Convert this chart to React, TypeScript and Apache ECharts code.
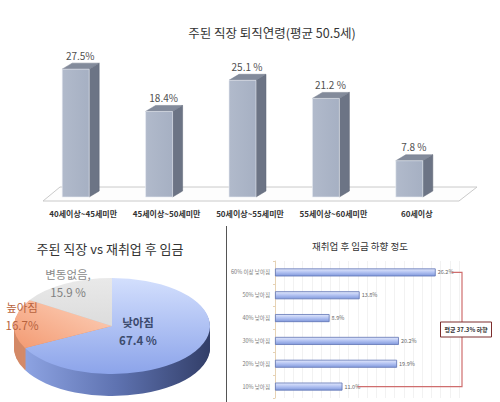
import React, { useEffect, useRef } from 'react';
import * as echarts from 'echarts';

// ---- data ----
const ageCategories = ['40세이상~45세미만', '45세이상~50세미만', '50세이상~55세미만', '55세이상~60세미만', '60세이상'];
const ageValues = [27.5, 18.4, 25.1, 21.2, 7.8];
const ageValueLabels = ['27.5%', '18.4%', '25.1 %', '21.2 %', '7.8 %'];

const wageNames = ['낮아짐', '높아짐', '변동없음,'];
const wageValues = [67.4, 16.7, 15.9];
const wageValueLabels = ['67.4 %', '16.7%', '15.9 %'];

const dropCategories = ['60% 이상 낮아짐', '50% 낮아짐', '40% 낮아짐', '30% 낮아짐', '20% 낮아짐', '10% 낮아짐'];
const dropValues = [26.2, 13.8, 8.9, 20.2, 19.9, 11.0];
const dropAverageLabel = '평균 37.3% 하향';

const titles = ['주된 직장 퇴직연령(평균 50.5세)', '주된 직장 vs 재취업 후 임금', '재취업 후 임금 하향 정도'];

// ---- layout ----
const FONT = '"Noto Sans CJK KR", "Noto Sans", sans-serif';
const PIE = { cx: 112, cy: 326, rx: 98, ry: 48, depth: 22 };
const pieLabelPos = [[138, 331], [22, 316], [68, 283]];
const pieLabelColors = [['#3c4b6e', '#3c4b6e'], ['#b8633e', '#b8633e'], ['#8a8a8a', '#808080']];
const pieLabelWeights = ['bold', 'normal', 'normal'];
const pieTopFills = [
  { type: 'linear', x: 0, y: 0, x2: 0, y2: 1, colorStops: [{ offset: 0, color: '#d3dffd' }, { offset: 1, color: '#8ca4ea' }] },
  { type: 'linear', x: 1, y: 0, x2: 0, y2: 1, colorStops: [{ offset: 0, color: '#fdd3bd' }, { offset: 1, color: '#f39a72' }] },
  { type: 'linear', x: 0, y: 0, x2: 0, y2: 1, colorStops: [{ offset: 0, color: '#e9e9e9' }, { offset: 1, color: '#dcdcdc' }] },
];
const pieSideFills = [
  { type: 'linear', x: 0, y: 0, x2: 1, y2: 0, colorStops: [{ offset: 0, color: '#8da3e2' }, { offset: 0.5, color: '#5e72b0' }, { offset: 1, color: '#323e68' }] },
  '#d48a68',
  '#c4c4c4',
];

function sliceAngles(i: number) {
  const total = wageValues.reduce((a, b) => a + b, 0);
  let cum = 0;
  for (let k = 0; k < i; k++) cum += wageValues[k];
  const a0 = -Math.PI / 2 + (cum / total) * Math.PI * 2;
  const a1 = a0 + (wageValues[i] / total) * Math.PI * 2;
  return [a0, a1];
}

export default function App() {
  const ref = useRef<HTMLDivElement>(null);
  useEffect(() => {
    document.body.style.margin = '0';
    if (!ref.current) return;
    const chart = echarts.init(ref.current, null, { renderer: 'svg' });
    const k = PIE.ry / PIE.rx;

    const option: any = {
      animation: false,
      backgroundColor: '#ffffff',
      textStyle: { fontFamily: FONT },
      grid: [
        { left: 41.5, top: 57.5, width: 417, height: 139.5 },
        { left: 275, top: 261, width: 184, height: 137 },
      ],
      xAxis: [
        {
          type: 'category', gridIndex: 0, data: ageCategories,
          axisLine: { show: false }, axisTick: { show: false },
          axisLabel: { interval: 0, margin: 12, fontSize: 8, fontWeight: 'bold', color: '#333', fontFamily: FONT },
        },
        {
          type: 'value', gridIndex: 1, min: 0, max: 30, interval: 1.5,
          axisLine: { show: false }, axisTick: { show: false }, axisLabel: { show: false },
          splitLine: { show: true, lineStyle: { color: '#efefef', width: 0.8 } },
        },
      ],
      yAxis: [
        { type: 'value', gridIndex: 0, min: 0, max: 30, show: false },
        {
          type: 'category', gridIndex: 1, data: dropCategories, inverse: true,
          axisLine: { show: true, lineStyle: { color: '#e6d2b4', width: 1 } },
          axisTick: { show: true, length: 2, lineStyle: { color: '#e6d2b4' } },
          axisLabel: { interval: 0, fontSize: 5.5, color: '#7a7a7a', margin: 5, fontFamily: FONT },
        },
      ],
      series: [
        // 3D bars
        {
          type: 'custom', xAxisIndex: 0, yAxisIndex: 0,
          data: ageValues.map((v, i) => [i, v]),
          encode: { x: 0, y: 1 },
          z: 3,
          renderItem: (params: any, api: any) => {
            const idx = api.value(0);
            const v = api.value(1);
            const base = api.coord([idx, 0]);
            const top = api.coord([idx, v]);
            const c = base[0];
            const fl = c - 21, fw = 27, sd = 10, td = 6;
            const yb = base[1], yt = top[1];
            return {
              type: 'group',
              children: [
                {
                  type: 'polygon',
                  shape: { points: [[fl + fw, yt], [fl + fw + sd, yt - td], [fl + fw + sd, yb - td], [fl + fw, yb]] },
                  style: { fill: '#6c7485', stroke: '#5d6574', lineWidth: 0.5 },
                },
                {
                  type: 'polygon',
                  shape: { points: [[fl, yt], [fl + sd, yt - td], [fl + fw + sd, yt - td], [fl + fw, yt]] },
                  style: { fill: '#838b9b', stroke: '#737b8b', lineWidth: 0.5 },
                },
                {
                  type: 'rect',
                  shape: { x: fl, y: yt, width: fw, height: yb - yt },
                  style: {
                    fill: { type: 'linear', x: 0, y: 0, x2: 1, y2: 0, colorStops: [{ offset: 0, color: '#b1bacb' }, { offset: 1, color: '#a6b0c3' }] },
                    stroke: '#e9edf3', lineWidth: 0.6,
                  },
                },
                {
                  type: 'text',
                  x: c - 3, y: yt - td - 3,
                  style: { text: ageValueLabels[params.dataIndex], fontSize: 10, fill: '#505050', textAlign: 'center', textVerticalAlign: 'bottom', fontFamily: FONT },
                },
              ],
            };
          },
        },
        // horizontal bars
        {
          type: 'bar', xAxisIndex: 1, yAxisIndex: 1,
          data: dropValues,
          barWidth: 8,
          itemStyle: {
            color: { type: 'linear', x: 0, y: 0, x2: 0, y2: 1, colorStops: [{ offset: 0, color: '#e2e8fb' }, { offset: 0.45, color: '#b6c5f3' }, { offset: 1, color: '#8199dc' }] },
            borderColor: '#5f74b4', borderWidth: 0.8,
          },
          label: {
            show: true, position: 'right', distance: 2, fontSize: 5.5, color: '#666', fontFamily: FONT,
            formatter: (p: any) => p.value.toFixed(1) + '%',
          },
        },
        // bracket + average box
        {
          type: 'custom', xAxisIndex: 1, yAxisIndex: 1, clip: false, z: 4,
          data: [[0, 0]],
          renderItem: (params: any, api: any) => {
            const cs = params.coordSys;
            const last = dropValues.length - 1;
            const t = api.coord([dropValues[0], 0]);
            const b = api.coord([dropValues[last], last]);
            const vx = cs.x + cs.width + 3;
            const mid = (t[1] + b[1]) / 2;
            return {
              type: 'group',
              children: [
                {
                  type: 'polyline',
                  shape: { points: [[t[0] + 16, t[1]], [vx, t[1]], [vx, b[1]], [b[0] + 15, b[1]]] },
                  style: { stroke: '#cf6e6e', lineWidth: 1.2, fill: 'none' },
                },
                {
                  type: 'rect',
                  shape: { x: vx + 4 - 25.5, y: mid - 7.5, width: 51, height: 15 },
                  style: { fill: '#ffffff', stroke: '#7d2e2e', lineWidth: 1 },
                },
                {
                  type: 'text', x: vx + 4, y: mid,
                  style: { text: dropAverageLabel, fontSize: 6, fontWeight: 'bold', fill: '#333', textAlign: 'center', textVerticalAlign: 'middle', fontFamily: FONT },
                },
              ],
            };
          },
        },
        // pie sides
        {
          type: 'custom', coordinateSystem: 'none', z: 2,
          data: wageValues.map((v) => [v]),
          renderItem: (params: any) => {
            const i = params.dataIndex;
            const [a0, a1] = sliceAngles(i);
            const children: any[] = [];
            for (let d = PIE.depth; d >= 1; d--) {
              children.push({
                type: 'group', x: PIE.cx, y: PIE.cy + d, scaleY: k,
                children: [{
                  type: 'sector', z2: PIE.depth - d,
                  shape: { cx: 0, cy: 0, r: PIE.rx, startAngle: a0, endAngle: a1, clockwise: true },
                  style: { fill: pieSideFills[i] },
                }],
              });
            }
            return { type: 'group', children };
          },
        },
        // pie tops + labels
        {
          type: 'custom', coordinateSystem: 'none', z: 3,
          data: wageValues.map((v) => [v]),
          renderItem: (params: any) => {
            const i = params.dataIndex;
            const [a0, a1] = sliceAngles(i);
            const [lx, ly] = pieLabelPos[i];
            return {
              type: 'group',
              children: [
                {
                  type: 'group', x: PIE.cx, y: PIE.cy, scaleY: k,
                  children: [{
                    type: 'sector',
                    shape: { cx: 0, cy: 0, r: PIE.rx, startAngle: a0, endAngle: a1, clockwise: true },
                    style: { fill: pieTopFills[i] },
                  }],
                },
                {
                  type: 'text', x: lx, y: ly - 9, z2: 10,
                  style: { text: wageNames[i], fontSize: 11.5, fontWeight: pieLabelWeights[i], fill: pieLabelColors[i][0], textAlign: 'center', textVerticalAlign: 'middle', fontFamily: FONT },
                },
                {
                  type: 'text', x: lx, y: ly + 9, z2: 10,
                  style: { text: wageValueLabels[i], fontSize: 11.5, fontWeight: pieLabelWeights[i], fill: pieLabelColors[i][1], textAlign: 'center', textVerticalAlign: 'middle', fontFamily: FONT },
                },
              ],
            };
          },
        },
      ],
      graphic: [
        {
          type: 'polygon', z: 0,
          shape: { points: [[43, 201], [459, 201], [477, 187], [60, 187]] },
          style: { fill: '#fdfdfd', stroke: '#cacaca', lineWidth: 1 },
        },
        {
          type: 'line', z: 0,
          shape: { x1: 226.5, y1: 226, x2: 226.5, y2: 402 },
          style: { stroke: '#555', lineWidth: 1 },
        },
        {
          type: 'text', x: 272, y: 32, z: 10,
          style: { text: titles[0], fontSize: 12.5, fill: '#333', textAlign: 'center', textVerticalAlign: 'middle', fontFamily: FONT },
        },
        {
          type: 'text', x: 110, y: 248, z: 10,
          style: { text: titles[1], fontSize: 13, fill: '#333', textAlign: 'center', textVerticalAlign: 'middle', fontFamily: FONT },
        },
        {
          type: 'text', x: 360, y: 246, z: 10,
          style: { text: titles[2], fontSize: 9.5, fill: '#333', textAlign: 'center', textVerticalAlign: 'middle', fontFamily: FONT },
        },
      ],
    };
    chart.setOption(option);
    return () => chart.dispose();
  }, []);
  return <div ref={ref} style={{ width: 500, height: 402 }} />;
}
